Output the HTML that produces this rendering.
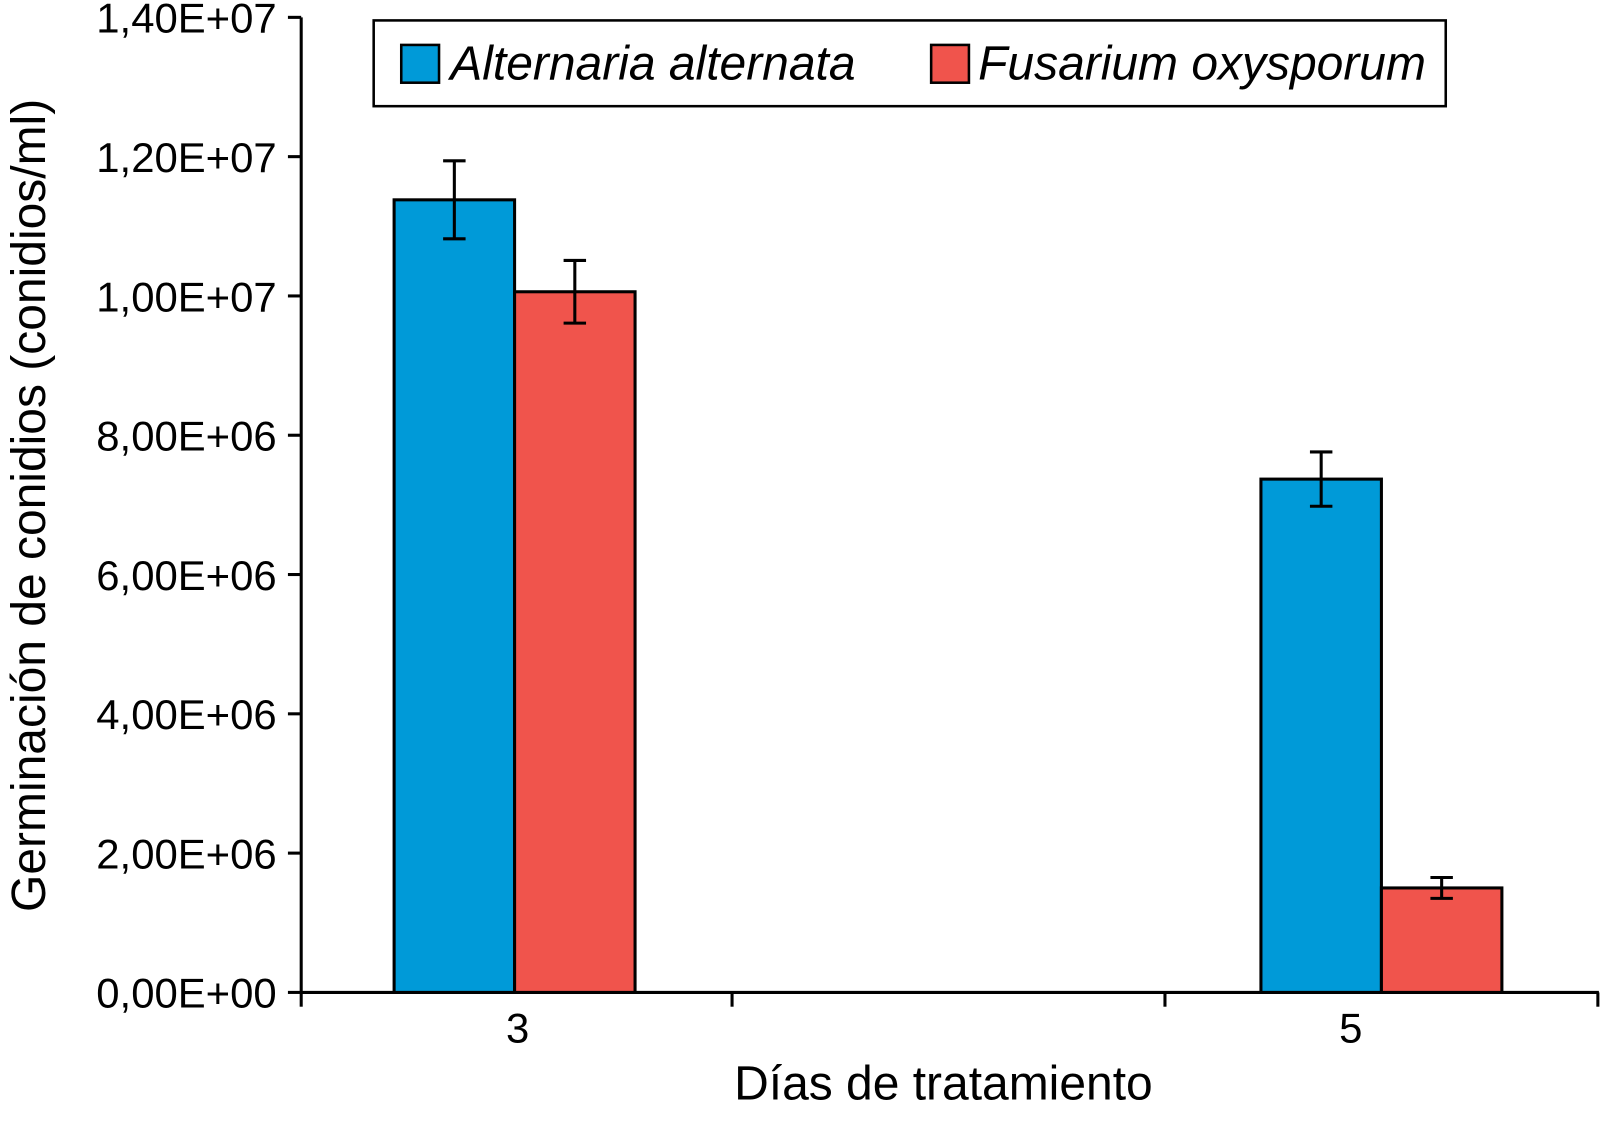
<!DOCTYPE html>
<html><head><meta charset="utf-8"><style>
body{margin:0;background:#fff}
svg{display:block;font-family:"Liberation Sans",Arial,sans-serif}
</style></head><body>
<svg id="chart" width="1601" height="1123" viewBox="0 0 1601 1123">
<g transform="scale(1.021)">
<g id="axes"></g><g id="bars"></g>
<g>
<rect x="366" y="20" width="1050" height="84" fill="#fff" stroke="#000" stroke-width="2.5"/>
<rect x="393" y="44" width="37" height="37" fill="#009ad8" stroke="#000" stroke-width="2.5"/>
<text x="441" y="78" font-size="47" font-style="italic">Alternaria alternata</text>
<rect x="912" y="44" width="37" height="37" fill="#f0544c" stroke="#000" stroke-width="2.5"/>
<text x="958" y="78" font-size="47" font-style="italic">Fusarium oxysporum</text>
</g>
<text x="924" y="1077" font-size="47" text-anchor="middle">Días de tratamiento</text>
<text transform="translate(44,495) rotate(-90)" font-size="47" text-anchor="middle">Germinación de conidios (conidios/ml)</text>
</g>
</svg>
<script>
const categories = ["3", "5"];
const alternaria = [11380000, 7370000];
const alternariaErr = [560000, 390000];
const fusarium = [10060000, 1500000];
const fusariumErr = [450000, 150000];
const yTicks = [0, 2000000, 4000000, 6000000, 8000000, 10000000, 12000000, 14000000];
const yTickLabels = ["0,00E+00","2,00E+06","4,00E+06","6,00E+06","8,00E+06","1,00E+07","1,20E+07","1,40E+07"];

const NS = "http://www.w3.org/2000/svg";
const y0 = 972, yTop = 17, yMax = 14000000;
const y = v => y0 - v / yMax * (y0 - yTop);
const groupCenters = [504, 1353];
const labelX = [507, 1323];
const barW = 118;
function mk(tag, attrs, parent){const e=document.createElementNS(NS,tag);for(const k in attrs)e.setAttribute(k,attrs[k]);parent.appendChild(e);return e;}
const axes=document.getElementById('axes'), bars=document.getElementById('bars');
let l=mk('line',{x1:295,y1:17,x2:295,y2:973,stroke:'#000','stroke-width':3},axes);


l=mk('line',{x1:294,y1:972,x2:1566,y2:972,stroke:'#000','stroke-width':3},axes);


[295,717,1141,1565].forEach(x=>{const t=mk('line',{x1:x,y1:972,x2:x,y2:986,stroke:'#000','stroke-width':3},axes);

});
yTicks.forEach((v,i)=>{const t=mk('line',{x1:282,y1:y(v),x2:295,y2:y(v),stroke:'#000','stroke-width':3},axes);


const tx=mk('text',{x:271,y:y(v)+15,'font-size':41,'text-anchor':'end'},axes);tx.textContent=yTickLabels[i];

});
categories.forEach((c,i)=>{const tx=mk('text',{x:labelX[i],y:1021,'font-size':41,'text-anchor':'middle'},axes);tx.textContent=c;

});
function drawBar(x,v,e,color,name){
 const r=mk('rect',{x:x,y:y(v),width:barW,height:y0-y(v),fill:color,stroke:'#000','stroke-width':3},bars);
 
 
 const cx=x+barW/2;
 const g=mk('g',{stroke:'#000','stroke-width':3},bars);
 
 
 mk('line',{x1:cx,y1:y(v+e),x2:cx,y2:y(v-e)},g);
 mk('line',{x1:cx-11,y1:y(v+e),x2:cx+11,y2:y(v+e)},g);
 mk('line',{x1:cx-11,y1:y(v-e),x2:cx+11,y2:y(v-e)},g);
}
categories.forEach((c,i)=>{
 drawBar(groupCenters[i]-barW,alternaria[i],alternariaErr[i],'#009ad8','bar-alternaria-day'+c);
 drawBar(groupCenters[i],fusarium[i],fusariumErr[i],'#f0544c','bar-fusarium-day'+c);
});
</script>
</body></html>
